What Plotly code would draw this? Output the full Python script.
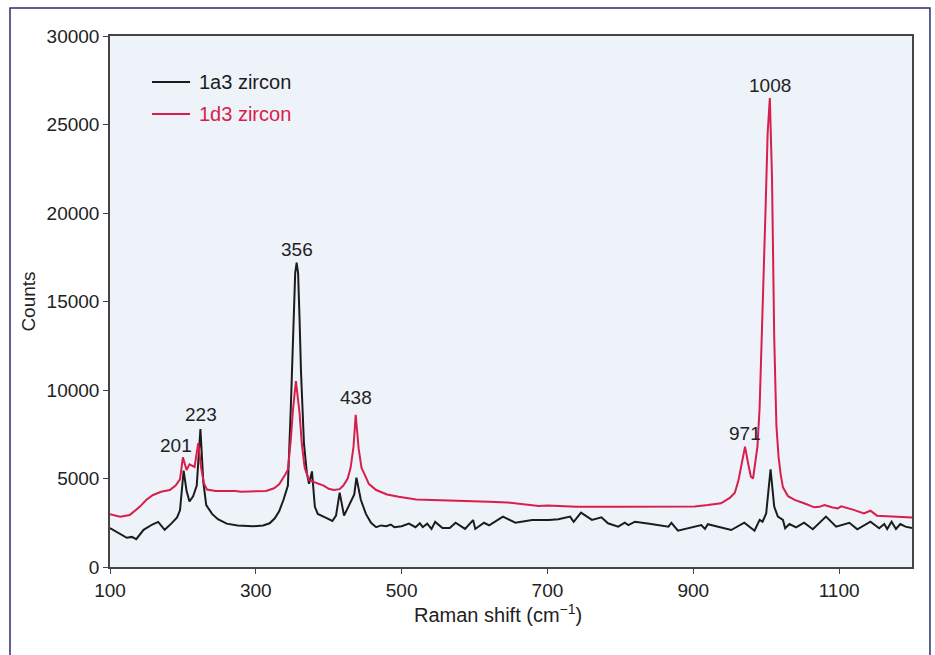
import plotly.graph_objects as go

# 1a3 zircon (black)
x_1a3 = [100, 112, 123, 130, 136, 146, 158, 166, 175, 184, 192, 196, 201, 205, 209, 214, 219, 224, 228, 232,
         240, 248, 260, 275, 296, 310, 319, 326, 332, 338, 344, 348, 352, 354, 356, 358, 360, 362, 366, 370, 373, 377,
         381, 385, 395, 405, 410, 415, 421, 426, 431, 435, 438, 444, 451, 458, 465, 472, 479, 485, 490, 500,
         510, 519, 525, 529, 535, 541, 546, 556, 566, 574, 587, 598, 601, 613, 620, 639, 656, 679, 702, 715,
         731, 736, 746, 761, 774, 783, 797, 806, 811, 820, 840, 866, 870, 879, 911, 916, 920, 952, 970, 984,
         991, 995, 1000, 1006, 1011, 1016, 1023, 1026, 1032, 1041, 1052, 1064, 1082, 1096, 1114, 1125, 1143,
         1155, 1162, 1166, 1172, 1178, 1184, 1191, 1200]
y_1a3 = [2200, 1900, 1650, 1700, 1570, 2100, 2400, 2550, 2100, 2450, 2800, 3200, 5450, 4300, 3700, 4000, 4600,
         7800, 4800, 3500, 3000, 2700, 2450, 2350, 2300, 2350, 2470, 2750, 3150, 3800, 4600, 9000, 14500, 16600,
         17200, 16600, 14000, 11000, 7000, 5300, 4700, 5400, 3400, 3000, 2800, 2600, 2900, 4200, 2900, 3300, 3750,
         4100, 5050,
         3800, 3000, 2500, 2250, 2350, 2300, 2400, 2250, 2300, 2450, 2250, 2470, 2250, 2450, 2150, 2550, 2200,
         2200, 2500, 2150, 2650, 2150, 2500, 2350, 2850, 2500, 2650, 2650, 2700, 2850, 2550, 3070, 2660, 2810,
         2470, 2280, 2500, 2370, 2560, 2450, 2280, 2500, 2050, 2370, 2150, 2420, 2090, 2500, 2050, 2660, 2560,
         3030, 5520, 3410, 2850, 2660, 2190, 2430, 2240, 2500, 2130, 2850, 2280, 2500, 2130, 2560, 2190, 2430,
         2150, 2560, 2150, 2430, 2280, 2200]

# 1d3 zircon (red)
x_1d3 = [100, 114, 127, 141, 150, 159, 170, 182, 190, 196, 200, 205, 209, 213, 216, 221, 225, 229, 233, 245,
         260, 268, 272, 280, 300, 314, 325, 332, 340, 344, 348, 351, 355, 360, 363, 367, 373, 387, 393, 400,
         407, 415, 420, 426, 430, 434, 437, 441, 445, 449, 455, 465, 480, 496, 520, 542, 580, 620, 645, 660,
         688, 700, 740, 800, 860, 902, 920, 938, 950, 957, 962, 966, 971, 975, 979, 982, 985, 988, 991, 995,
         999, 1002, 1005, 1008, 1011, 1014, 1017, 1020, 1023, 1030, 1039, 1052, 1066, 1073, 1080, 1090, 1098,
         1103, 1108, 1120, 1134, 1143, 1152, 1170, 1200]
y_1d3 = [2980, 2840, 2940, 3410, 3800, 4070, 4250, 4350, 4600, 4950, 6200, 5480, 5800, 5700, 5650, 7000, 5600,
         4700, 4380, 4300, 4300, 4260, 4300, 4250, 4280, 4300, 4450, 4670, 5200, 5500, 7200, 8900, 10500, 8700,
         7000, 5600, 4900, 4690, 4600, 4420, 4350, 4400, 4600, 5000, 5600, 6800, 8600, 6700, 5600, 5250, 4700,
         4350, 4100, 3970, 3820, 3790, 3720, 3680, 3650, 3580, 3450, 3470, 3410, 3400, 3400, 3420, 3500, 3600,
         3900, 4200, 4900, 5700, 6800, 5900, 5100, 5000, 5800, 6800, 9000, 14000, 20000, 24500, 26500, 22000,
         13000, 8000, 6200, 5200, 4500, 4000, 3790, 3600, 3370, 3400, 3500, 3380, 3310, 3430, 3380, 3230, 3030,
         3180, 2900, 2850, 2800]

peak_labels = ["201", "223", "356", "438", "971", "1008"]
peak_label_x = [190, 224.5, 357, 437.5, 971, 1005]
peak_label_y = [6890, 8590, 17910, 9550, 7570, 27230]

x_ticks = [100, 300, 500, 700, 900, 1100]
y_ticks = [0, 5000, 10000, 15000, 20000, 25000, 30000]
y_tick_text = [str(v) for v in y_ticks]

series_names = ["1a3 zircon", "1d3 zircon"]

BLACK = "#1c1c1c"
RED = "#d81e4a"
FONT = "Liberation Sans"

fig = go.Figure()
fig.add_trace(go.Scatter(x=x_1a3, y=y_1a3, mode="lines", name=series_names[0], showlegend=False,
                         line=dict(color=BLACK, width=2)))
fig.add_trace(go.Scatter(x=x_1d3, y=y_1d3, mode="lines", name=series_names[1], showlegend=False,
                         line=dict(color=RED, width=2)))

for lab, px, py in zip(peak_labels, peak_label_x, peak_label_y):
    fig.add_annotation(x=px, y=py, text=lab, showarrow=False, yanchor="middle", xanchor="center",
                       font=dict(size=19, color="#222", family=FONT))

# manual legend (line samples + labels)
for name, col, ly in zip(series_names, [BLACK, RED], [0.9134, 0.8531]):
    fig.add_shape(type="line", xref="paper", yref="paper", x0=0.0524, x1=0.0998, y0=ly, y1=ly,
                  line=dict(color=col, width=2))
    fig.add_annotation(xref="paper", yref="paper", x=0.1085, y=ly, text=name, showarrow=False,
                       xanchor="left", yanchor="middle", font=dict(size=20, color=col, family=FONT))

# x-axis title
fig.add_annotation(xref="paper", yref="paper", x=0.4838, y=-0.0885, showarrow=False,
                   xanchor="center", yanchor="middle", text="Raman shift (cm<sup>−1</sup>)",
                   font=dict(size=20, color="#222", family=FONT))

fig.add_shape(type="rect", xref="paper", yref="paper", x0=-0.1247, x1=1.0224, y0=-0.2, y1=1.0527,
              line=dict(color="#2b2f6b", width=1.5), layer="below")

fig.update_layout(
    width=935, height=655,
    margin=dict(l=110, r=23, t=36, b=88),
    paper_bgcolor="white", plot_bgcolor="#eef3fa",
    font=dict(family=FONT, size=19, color="#222"),
    showlegend=False,
    xaxis=dict(range=[100, 1200], tickvals=x_ticks, showgrid=False, zeroline=False,
               showline=True, linecolor="#444", linewidth=1.5, mirror=True,
               ticks="outside", ticklen=5, tickcolor="#444"),
    yaxis=dict(range=[0, 30000], tickvals=y_ticks, ticktext=y_tick_text, showgrid=False, zeroline=False,
               showline=True, linecolor="#444", linewidth=1.5, mirror=True,
               ticks="outside", ticklen=5, tickcolor="#444",
               title=dict(text="Counts", standoff=6, font=dict(size=19))),
)

fig.write_html("out.html")
